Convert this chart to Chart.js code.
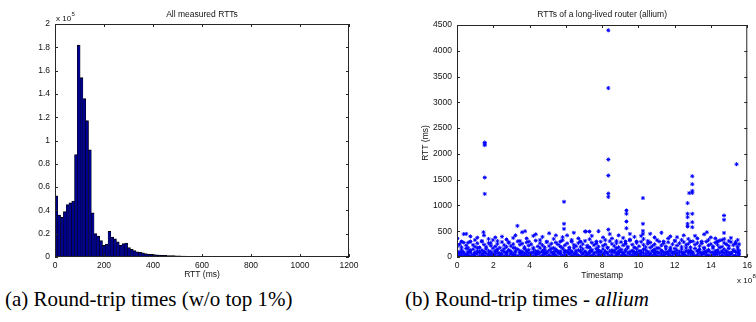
<!DOCTYPE html>
<html><head><meta charset="utf-8">
<script src="https://cdn.jsdelivr.net/npm/chart.js@4.4.1/dist/chart.umd.min.js"></script>
<style>
html,body{margin:0;padding:0;background:#fff;}
body{width:756px;height:322px;position:relative;overflow:hidden;}
.panel{position:absolute;top:0;width:378px;height:285px;}
.panel canvas{display:block;}
.cap{position:absolute;top:289px;font-family:'Liberation Serif','Times New Roman',serif;font-size:21px;line-height:21px;white-space:nowrap;color:#000;}
</style></head><body>
<div class="panel" style="left:0"><canvas id="histChart" width="378" height="285"></canvas></div>
<div class="panel" style="left:378px"><canvas id="scatterChart" width="378" height="285"></canvas></div>
<div class="cap" style="left:5px">(a) Round-trip times (w/o top 1%)</div>
<div class="cap" style="left:405px">(b) Round-trip times - <i>allium</i></div>
<script>
// ---------- (a) histogram of all measured RTTs ----------
const binStart = 0;          // ms
const binWidth = 11.4;       // ms (100 bins up to ~1140 ms)
const rttCounts = [
52500, 36000, 34000, 39000, 45000, 46500, 48000, 88000, 182000, 154000,
136000, 117000, 92000, 38000, 20000, 18000, 14000, 10000, 11000, 22000,
17000, 15500, 13000, 10000, 11500, 12000, 8000, 6500, 5500, 4500,
4000, 3500, 3000, 2600, 2200, 2000, 1800, 1600, 1500, 1400,
1300, 1200, 1200, 1100, 1000, 800, 700, 650, 600, 600,
550, 550, 500, 500, 500, 500, 450, 450, 450, 450,
450, 400, 400, 400, 400, 400, 400, 400, 400, 400,
350, 350, 350, 350, 350, 350, 350, 350, 350, 350,
350, 350, 350, 300, 200, 200, 200, 200, 200, 200,
200, 200, 200, 200, 200, 200, 200, 200, 200, 200
];
const histXTickLabels = ['0','200','400','600','800','1000','1200'];
const histYTickLabels = ['0','0.2','0.4','0.6','0.8','1','1.2','1.4','1.6','1.8','2'];

// ---------- (b) RTTs of allium over time (timestamps in units of 1e8) ----------
const bandT = [
0.02,0.14,0.25,0.37,0.51,0.62,0.74,0.88,0.99,1.12,
1.24,1.37,1.49,1.61,1.74,1.86,1.98,2.11,2.23,2.36,
2.48,2.60,2.73,2.85,2.97,3.10,3.22,3.35,3.47,3.59,
3.72,3.84,3.96,4.09,4.21,4.34,4.46,4.58,4.71,4.83,
4.95,5.08,5.20,5.33,5.45,5.57,5.70,5.82,5.94,6.07,
6.19,6.32,6.44,6.56,6.69,6.81,6.93,7.06,7.18,7.31,
7.43,7.55,7.68,7.80,7.92,8.05,8.17,8.30,8.42,8.54,
8.67,8.79,8.91,9.04,9.16,9.29,9.41,9.53,9.66,9.78,
9.90,10.03,10.15,10.28,10.40,10.52,10.65,10.77,10.89,11.02,
11.14,11.27,11.39,11.51,11.64,11.76,11.88,12.01,12.13,12.26,
12.38,12.50,12.63,12.75,12.87,13.00,13.12,13.25,13.37,13.49,
13.62,13.74,13.86,13.99,14.11,14.24,14.36,14.48,14.61,14.73,
14.85,14.98,15.10,15.23,15.35,15.47,15.55
];
const rttLow = [
18,42,25,9,55,31,12,47,22,60,
15,38,27,8,51,33,19,44,6,29,
58,21,36,11,49,26,40,14,53,30,
7,45,23,62,17,35,50,10,28,57,
20,41,13,48,32,9,55,24,39,16,
61,27,12,46,34,8,52,21,43,18,
30,56,11,37,25,49,14,59,22,40,
9,33,51,19,45,28,6,54,36,15,
47,23,38,10,57,29,42,17,50,26,
12,44,31,58,20,35,8,53,24,41,
16,49,27,11,56,33,19,45,7,38,
52,22,30,14,47,25,60,18,36,10,
43,28,55,21,34,12,40
];
const rttLow2 = [
72,5,96,64,30,108,88,3,70,118,
92,60,110,74,4,102,66,120,84,58,
2,98,68,126,80,62,114,4,86,104,
64,122,76,3,96,68,108,82,118,70,
100,6,90,66,116,78,104,2,88,112,
76,94,64,120,3,100,72,110,68,84,
118,6,98,74,106,64,114,82,4,92,
124,72,88,104,66,118,80,3,108,70,
96,62,116,78,4,100,68,122,86,104,
74,110,5,90,66,120,84,102,72,3,
94,62,118,80,106,70,2,112,88,66,
100,76,124,4,92,68,108,80,116,72,
98,84,66,110,5,90,76
];
const rttMid = [
112,85,140,96,165,78,128,150,90,175,
104,132,82,158,118,93,170,100,145,76,
124,160,88,136,110,180,95,148,120,84,
166,102,138,79,154,116,92,172,106,142,
86,130,162,98,150,114,77,168,126,90,
144,108,176,83,134,120,157,94,186,112,
140,80,162,124,100,152,88,178,116,132,
96,168,110,146,84,138,174,102,126,92,
160,118,80,150,136,98,182,110,144,86,
170,124,94,158,106,140,78,164,130,100,
152,88,176,114,136,96,166,120,146,82,
158,108,138,90,172,116,128,184,98,150,
112,164,86,140,104,156,122
];
const rttHigh = [
210,245,190,280,225,175,300,235,200,265,
185,310,240,195,270,220,330,205,255,180,
290,230,198,275,215,250,170,305,238,260,
192,285,222,248,178,318,206,268,230,188,
296,214,258,176,280,242,202,325,226,264,
184,300,236,210,272,196,250,312,220,186,
278,232,260,198,296,218,244,180,308,254,
212,270,190,288,226,262,200,320,240,184,
274,208,296,236,192,258,282,214,246,176,
300,228,266,204,286,180,248,314,222,268,
196,290,232,256,188,304,240,274,210,262,
182,298,226,250,206,280,236,318,198,272,
244,214,290,230,262,200,250
];
const rttTop = [
360,null,300,445,null,280,400,null,330,375,
null,300,420,null,350,270,null,380,310,null,
395,null,340,290,null,370,420,null,310,480,
null,360,300,null,410,440,null,330,390,null,
290,460,null,350,420,null,300,385,null,420,
null,330,470,null,360,300,null,495,null,345,
410,null,300,500,null,380,330,null,445,360,
null,310,420,null,370,300,null,340,null,390,
300,null,410,350,null,310,450,null,380,330,
null,470,300,null,360,400,null,310,385,null,
330,420,null,350,300,null,410,360,null,300,
440,null,330,380,null,360,300,null,330,350,
null,310,370,null,290,330,null
];
const outlierT = [1.53,1.53,1.53,1.53,1.53,1.46, 5.90,5.90,5.90, 3.33,3.75,
  8.34,8.34,8.34,8.34,8.34,8.34,8.34, 9.34,9.34,9.34,9.34, 9.53,
  10.25,10.25,10.25,10.25, 12.71,12.71,12.71,12.71,12.71, 12.80,
  12.97,12.97,12.97,12.97,12.97,12.97,12.97, 13.77, 14.72,14.72,14.72, 15.41,
  7.10,7.30,0.51];
const outlierRtt = [2221,2189,2170,1541,1224,481, 1071,643,545, 604,500,
  4397,3277,1891,1580,1230,1166,532, 903,838,688,558, 448,
  1143,643,506,448, 1045,838,773,643,591, 1240,
  1567,1412,1282,1243,838,675,578, 480, 805,721,467, 1800,
  494,494,448];
const scatXTickLabels = ['0','2','4','6','8','10','12','14','16'];
const scatYTickLabels = ['0','500','1000','1500','2000','2500','3000','3500','4000','4500'];

// ---------- shared styling ----------
const FONT = "'Liberation Sans', Arial, Helvetica, sans-serif";
const AX = '#262626';

const matlabFrame = {
  id: 'matlabFrame',
  afterDraw(chart, args, o) {
    const {ctx, chartArea: a, scales} = chart;
    ctx.save();
    ctx.strokeStyle = AX;
    ctx.lineWidth = 1;
    ctx.strokeRect(a.left + 0.5, a.top + 0.5, a.right - a.left - 1, a.bottom - a.top - 1);
    const L = 3;
    ctx.beginPath();
    scales.x.ticks.forEach(t => {
      const p = Math.round(scales.x.getPixelForValue(t.value)) + 0.5;
      ctx.moveTo(p, a.bottom); ctx.lineTo(p, a.bottom - L);
      ctx.moveTo(p, a.top); ctx.lineTo(p, a.top + L);
    });
    scales.y.ticks.forEach(t => {
      const p = Math.round(scales.y.getPixelForValue(t.value)) + 0.5;
      ctx.moveTo(a.left, p); ctx.lineTo(a.left + L, p);
      ctx.moveTo(a.right, p); ctx.lineTo(a.right - L, p);
    });
    ctx.stroke();
    ctx.fillStyle = '#111';
    const cx = (a.left + a.right) / 2;
    ctx.textAlign = 'center';
    ctx.textBaseline = 'middle';
    ctx.font = '8.5px ' + FONT;
    ctx.fillText(o.title, cx, o.titleY);
    ctx.fillText(o.xTitle, cx, o.xTitleY);
    if (o.yTitle) {
      ctx.save();
      ctx.translate(o.yTitleX, (a.top + a.bottom) / 2 + 2);
      ctx.rotate(-Math.PI / 2);
      ctx.fillText(o.yTitle, 0, 0);
      ctx.restore();
    }
    // exponent label  "x 10^n"
    ctx.textAlign = 'left';
    ctx.textBaseline = 'alphabetic';
    ctx.font = '8px ' + FONT;
    ctx.fillText('x 10', o.expX, o.expY);
    const w = ctx.measureText('x 10').width;
    ctx.font = '6px ' + FONT;
    ctx.fillText(o.expN, o.expX + w + 0.5, o.expY - 5);
    ctx.restore();
  }
};

function tickFont() { return {family: FONT, size: 8.5}; }

// ---------- chart (a) ----------
new Chart(document.getElementById('histChart'), {
  type: 'bar',
  data: {
    datasets: [{
      data: rttCounts.map((c, i) => ({x: binStart + binWidth * (i + 0.5), y: c})),
      backgroundColor: '#00008F',
      borderColor: '#000000',
      borderWidth: {top: 1, left: 0.5, right: 0.5, bottom: 0},
      borderSkipped: false,
      barPercentage: 1,
      categoryPercentage: 1
    }]
  },
  plugins: [matlabFrame],
  options: {
    responsive: false,
    animation: false,
    layout: {padding: {left: 0, right: 29, top: 24, bottom: 0}},
    plugins: {
      legend: {display: false},
      tooltip: {enabled: false},
      matlabFrame: {title: 'All measured RTTs', titleY: 15, xTitle: 'RTT (ms)', xTitleY: 275,
                    expX: 56, expY: 21, expN: '5'}
    },
    scales: {
      x: {
        type: 'linear', min: 0, max: 1200, offset: false,
        grid: {display: false, drawTicks: false, offset: false},
        border: {display: false},
        ticks: {stepSize: 200, padding: 4, autoSkip: false, maxRotation: 0, color: '#111', font: tickFont(),
                callback: (v, i) => histXTickLabels[i]},
        afterFit: s => { s.height = 28; }
      },
      y: {
        min: 0, max: 200000,
        grid: {display: false, drawTicks: false},
        border: {display: false},
        ticks: {stepSize: 20000, padding: 5, autoSkip: false, color: '#111', font: tickFont(),
                callback: (v, i) => histYTickLabels[i]},
        afterFit: s => { s.width = 55; }
      }
    }
  }
});

// ---------- chart (b) ----------
const scatterPts = [];
bandT.forEach((t, i) => {
  [rttLow, rttLow2, rttMid, rttHigh, rttTop].forEach(arr => {
    if (arr[i] !== null && arr[i] !== undefined) scatterPts.push({x: t, y: arr[i]});
  });
});
outlierT.forEach((t, i) => scatterPts.push({x: t, y: outlierRtt[i]}));

new Chart(document.getElementById('scatterChart'), {
  type: 'scatter',
  data: {
    datasets: [{
      data: scatterPts,
      pointStyle: 'star',
      pointRadius: 2,
      pointBorderWidth: 1,
      borderColor: '#0000FF',
      backgroundColor: '#0000FF'
    }]
  },
  plugins: [matlabFrame],
  options: {
    responsive: false,
    animation: false,
    layout: {padding: {left: 0, right: 6, top: 25, bottom: 0}},
    plugins: {
      legend: {display: false},
      tooltip: {enabled: false},
      matlabFrame: {title: 'RTTs of a long-lived router (allium)', titleY: 15, xTitle: 'Timestamp', xTitleY: 276,
                    yTitle: 'RTT (ms)', yTitleX: 48, expX: 359, expY: 283, expN: '8'}
    },
    scales: {
      x: {
        type: 'linear', min: 0, max: 16,
        grid: {display: false, drawTicks: false},
        border: {display: false},
        ticks: {stepSize: 2, padding: 4, autoSkip: false, maxRotation: 0, color: '#111', font: tickFont(),
                callback: (v, i) => scatXTickLabels[i]},
        afterFit: s => { s.height = 28; }
      },
      y: {
        min: 0, max: 4500,
        grid: {display: false, drawTicks: false},
        border: {display: false},
        ticks: {stepSize: 500, padding: 5, autoSkip: false, color: '#111', font: tickFont(),
                callback: (v, i) => scatYTickLabels[i]},
        afterFit: s => { s.width = 79; }
      }
    }
  }
});
</script>
</body></html>
